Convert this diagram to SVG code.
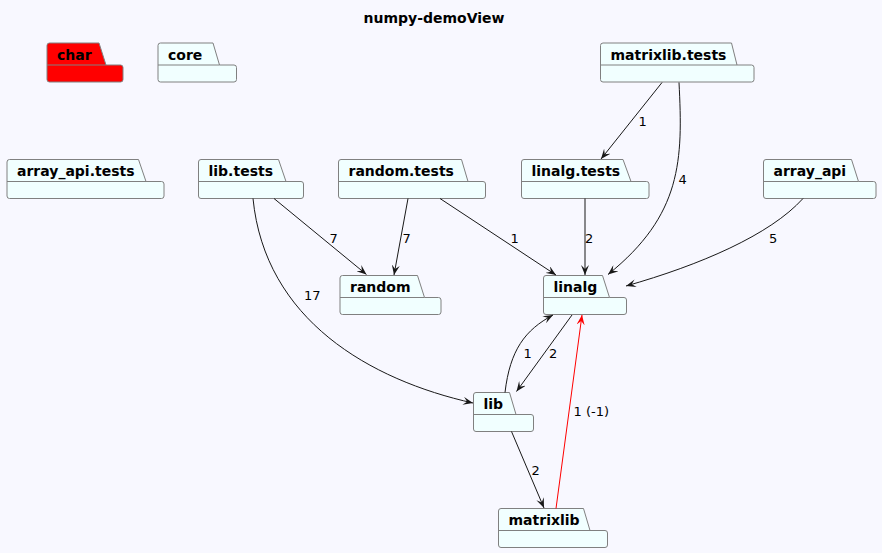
<svg xmlns="http://www.w3.org/2000/svg" width="882" height="553" viewBox="0 0 882 553">
<style>
.pk{fill:#F1FFFF;stroke:#808080;stroke-width:1}
.pn{font-family:"DejaVu Sans",sans-serif;font-weight:bold;font-size:14px;fill:#000}
.e{fill:none;stroke:#181818;stroke-width:1}
.er{fill:none;stroke:#FF0000;stroke-width:1}
.lb{font-family:"DejaVu Sans",sans-serif;font-size:13px;fill:#000}
.title{font-family:"DejaVu Sans",sans-serif;font-weight:bold;font-size:14px;fill:#000}
</style>
<defs>
<marker id="ah" viewBox="0 0 10 8" markerWidth="10" markerHeight="8" refX="10" refY="4" orient="auto" markerUnits="userSpaceOnUse"><path d="M0,0 L10,4 L0,8 L4,4 Z" fill="#181818"/></marker>
<marker id="ahr" viewBox="0 0 10 8" markerWidth="10" markerHeight="8" refX="10" refY="4" orient="auto" markerUnits="userSpaceOnUse"><path d="M0,0 L10,4 L0,8 L4,4 Z" fill="#FF0000"/></marker>
</defs>
<rect x="0" y="0" width="882" height="553" fill="#F8F8FF"/>
<text class="title" x="434" y="23" text-anchor="middle">numpy-demoView</text>

<g id="char"><path class="pk" style="fill:#FF0000" d="M47,45.5 Q47,43 49.5,43 L99,43 L106,65 L120.5,65 Q123,65 123,67.5 L123,79.5 Q123,82 120.5,82 L49.5,82 Q47,82 47,79.5 Z M47,65 L106,65"/><text class="pn" x="57" y="59.5">char</text></g>
<g id="core"><path class="pk" d="M158,45.5 Q158,43 160.5,43 L213,43 L219.5,65 L234,65 Q236.5,65 236.5,67.5 L236.5,79.5 Q236.5,82 234,82 L160.5,82 Q158,82 158,79.5 Z M158,65 L219.5,65"/><text class="pn" x="168" y="59.5">core</text></g>
<g id="matrixlib.tests"><path class="pk" d="M600.5,45.5 Q600.5,43 603,43 L731.5,43 L737,65 L751.5,65 Q754,65 754,67.5 L754,79.5 Q754,82 751.5,82 L603,82 Q600.5,82 600.5,79.5 Z M600.5,65 L737,65"/><text class="pn" x="610.5" y="59.5">matrixlib.tests</text></g>
<g id="array_api.tests"><path class="pk" d="M7,162 Q7,159.5 9.5,159.5 L138.5,159.5 L146,181.5 L161.5,181.5 Q164,181.5 164,184 L164,196 Q164,198.5 161.5,198.5 L9.5,198.5 Q7,198.5 7,196 Z M7,181.5 L146,181.5"/><text class="pn" x="17" y="176">array_api.tests</text></g>
<g id="lib.tests"><path class="pk" d="M198.5,162 Q198.5,159.5 201,159.5 L278.5,159.5 L286,181.5 L301,181.5 Q303.5,181.5 303.5,184 L303.5,196 Q303.5,198.5 301,198.5 L201,198.5 Q198.5,198.5 198.5,196 Z M198.5,181.5 L286,181.5"/><text class="pn" x="208.5" y="176">lib.tests</text></g>
<g id="random.tests"><path class="pk" d="M338.5,162 Q338.5,159.5 341,159.5 L461.5,159.5 L468,181.5 L483,181.5 Q485.5,181.5 485.5,184 L485.5,196 Q485.5,198.5 483,198.5 L341,198.5 Q338.5,198.5 338.5,196 Z M338.5,181.5 L468,181.5"/><text class="pn" x="348.5" y="176">random.tests</text></g>
<g id="linalg.tests"><path class="pk" d="M521.5,162 Q521.5,159.5 524,159.5 L623,159.5 L631,181.5 L646.5,181.5 Q649,181.5 649,184 L649,196 Q649,198.5 646.5,198.5 L524,198.5 Q521.5,198.5 521.5,196 Z M521.5,181.5 L631,181.5"/><text class="pn" x="531.5" y="176">linalg.tests</text></g>
<g id="array_api"><path class="pk" d="M763.5,162 Q763.5,159.5 766,159.5 L851.5,159.5 L858.5,181.5 L873.5,181.5 Q876,181.5 876,184 L876,196 Q876,198.5 873.5,198.5 L766,198.5 Q763.5,198.5 763.5,196 Z M763.5,181.5 L858.5,181.5"/><text class="pn" x="773.5" y="176">array_api</text></g>
<g id="random"><path class="pk" d="M340,278 Q340,275.5 342.5,275.5 L417.5,275.5 L424.5,297.5 L438.5,297.5 Q441,297.5 441,300 L441,312 Q441,314.5 438.5,314.5 L342.5,314.5 Q340,314.5 340,312 Z M340,297.5 L424.5,297.5"/><text class="pn" x="350" y="292">random</text></g>
<g id="linalg"><path class="pk" d="M543.5,278 Q543.5,275.5 546,275.5 L602.5,275.5 L609.5,297.5 L624,297.5 Q626.5,297.5 626.5,300 L626.5,312 Q626.5,314.5 624,314.5 L546,314.5 Q543.5,314.5 543.5,312 Z M543.5,297.5 L609.5,297.5"/><text class="pn" x="553.5" y="292">linalg</text></g>
<g id="lib"><path class="pk" d="M473.5,395 Q473.5,392.5 476,392.5 L509.5,392.5 L516,414.5 L531,414.5 Q533.5,414.5 533.5,417 L533.5,429 Q533.5,431.5 531,431.5 L476,431.5 Q473.5,431.5 473.5,429 Z M473.5,414.5 L516,414.5"/><text class="pn" x="483.5" y="409">lib</text></g>
<g id="matrixlib"><path class="pk" d="M498.5,511 Q498.5,508.5 501,508.5 L583.5,508.5 L590,530.5 L605,530.5 Q607.5,530.5 607.5,533 L607.5,545 Q607.5,547.5 605,547.5 L501,547.5 Q498.5,547.5 498.5,545 Z M498.5,530.5 L590,530.5"/><text class="pn" x="508.5" y="525">matrixlib</text></g>

<g id="connectors">
<path class="e" marker-end="url(#ah)" d="M662,82.5 L601,159"/>
<text class="lb" x="638.5" y="126">1</text>
<path class="e" marker-end="url(#ah)" d="M679,82.5 C683,160 682,215 608,274.5"/>
<text class="lb" x="678.5" y="184">4</text>
<path class="e" marker-end="url(#ah)" d="M585,198.5 L585,275"/>
<text class="lb" x="585" y="242.5">2</text>
<path class="e" marker-end="url(#ah)" d="M803,198.5 C770,235 700,265 626,286"/>
<text class="lb" x="769" y="242.5">5</text>
<path class="e" marker-end="url(#ah)" d="M440,198.5 L556,275"/>
<text class="lb" x="510.5" y="242.5">1</text>
<path class="e" marker-end="url(#ah)" d="M408,198.5 L394,275"/>
<text class="lb" x="402.5" y="242.5">7</text>
<path class="e" marker-end="url(#ah)" d="M274,198.5 L366.5,274.5"/>
<text class="lb" x="329.5" y="242.5">7</text>
<path class="e" marker-end="url(#ah)" d="M253,198.5 C265,320 370,380 473,403"/>
<text class="lb" x="304" y="300">17</text>
<path class="e" marker-end="url(#ah)" d="M505,392.5 C510,350 525,330 553,315"/>
<text class="lb" x="523.5" y="358">1</text>
<path class="e" marker-end="url(#ah)" d="M572,315 L516.5,391.5"/>
<text class="lb" x="549" y="358">2</text>
<path class="e" marker-end="url(#ah)" d="M511.5,431.5 L544,508"/>
<text class="lb" x="531.5" y="475">2</text>
<path class="er" marker-end="url(#ahr)" d="M556,508.5 L582,315"/>
<text class="lb" x="573.5" y="415.5">1 (-1)</text>
</g>
</svg>
